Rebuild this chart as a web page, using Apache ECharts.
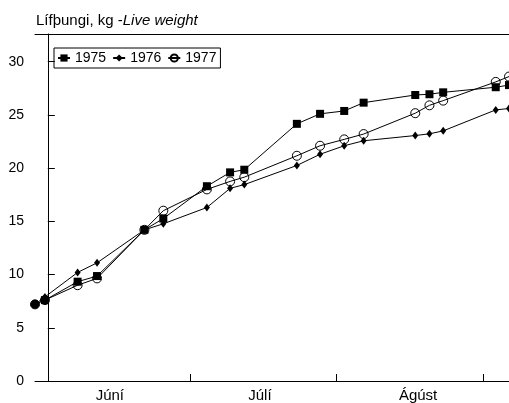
<!DOCTYPE html>
<html>
<head>
<meta charset="utf-8">
<script src="https://cdn.jsdelivr.net/npm/echarts@6/dist/echarts.min.js"></script>
<style>
html,body{margin:0;padding:0;background:#fff;}
#chart{width:509px;height:403px;}
</style>
</head>
<body>
<div id="chart"></div>
<script>
// Days counted from 1 June
const days = [-2.7, -0.6, 6.3, 10.4, 20.4, 24.4, 33.6, 38.5, 41.5, 52.6, 57.5, 62.6, 66.7, 77.6, 80.6, 83.5, 94.6, 97.4];
const w1975 = [null, 7.6, 9.33, 9.86, 14.2, 15.26, 18.3, 19.6, 19.85, 24.16, 25.1, 25.37, 26.15, 26.87, 26.94, 27.12, 27.6, 27.8];
const w1976 = [7.2, 7.9, 10.2, 11.1, 14.2, 14.77, 16.3, 18.1, 18.45, 20.25, 21.3, 22.1, 22.57, 23.06, 23.22, 23.5, 25.47, 25.6];
const w1977 = [7.2, 7.6, 9.0, 9.64, 14.2, 16.0, 18.0, 18.75, 19.15, 21.16, 22.1, 22.7, 23.2, 25.16, 25.9, 26.34, 28.1, 28.6];
const seriesNames = ['1975', '1976', '1977'];
const monthStarts = [0, 30, 61, 92];
const monthLabelPos = [13.1, 44.8, 78.2];
const monthLabels = ['Júní', 'Júlí', 'Ágúst'];
const yTicks = [0, 5, 10, 15, 20, 25, 30];

const FONT = '"Liberation Sans", Arial, sans-serif';

function pairs(vals) {
  const out = [];
  vals.forEach((v, i) => { if (v !== null) out.push([days[i], v]); });
  return out;
}

const chart = echarts.init(document.getElementById('chart'), null, {renderer: 'canvas'});
const d1977 = pairs(w1977);
d1977[0] = {value: d1977[0], itemStyle: {color: '#000'}};

chart.setOption({
  animation: false,
  backgroundColor: '#fff',
  title: {
    text: '{a|Lífþungi, kg -}{b|Live weight}',
    left: 36, top: 13, padding: 0,
    textStyle: {
      fontWeight: 'normal',
      rich: {
        a: {fontFamily: FONT, fontSize: 15, color: '#000', fontWeight: 'normal'},
        b: {fontFamily: FONT, fontSize: 15, color: '#000', fontStyle: 'italic', fontWeight: 'normal'}
      }
    }
  },
  legend: {
    left: 54, top: 48,
    padding: [3, 4, 3, 3],
    borderColor: '#000', borderWidth: 1, borderRadius: 0,
    itemWidth: 12, itemHeight: 9, itemGap: 6,
    textStyle: {fontFamily: FONT, fontSize: 14, color: '#000'},
    data: seriesNames
  },
  grid: {left: 35, right: 0, top: 34, bottom: 21, containLabel: false},
  xAxis: [{
    type: 'value', min: -2.7, max: 97.4,
    axisLine: {show: true, lineStyle: {color: '#000', width: 1}},
    axisTick: {show: true, inside: true, length: 7, lineStyle: {color: '#000'}, customValues: monthStarts},
    axisLabel: {
      show: true, customValues: monthLabelPos, margin: 7,
      fontFamily: FONT, fontSize: 15, color: '#000',
      formatter: function (v) {
        const i = monthLabelPos.indexOf(v);
        return i >= 0 ? monthLabels[i] : '';
      }
    },
    splitLine: {show: false}
  }, {
    type: 'value', position: 'top', min: -2.7, max: 97.4,
    axisLine: {show: true, lineStyle: {color: '#000', width: 1}},
    axisTick: {show: false}, axisLabel: {show: false}, splitLine: {show: false}
  }],
  yAxis: {
    type: 'value', min: 0, max: 32.6,
    axisLine: {show: true, lineStyle: {color: '#000', width: 1}},
    axisTick: {show: true, inside: true, length: 7, lineStyle: {color: '#000'}, customValues: yTicks},
    axisLabel: {customValues: yTicks, margin: 11, fontFamily: FONT, fontSize: 14, color: '#000'},
    splitLine: {show: false}
  },
  series: [{
    name: seriesNames[0], type: 'line', data: pairs(w1975),
    symbol: 'rect', symbolSize: 8,
    lineStyle: {color: '#000', width: 1},
    itemStyle: {color: '#000'}
  }, {
    name: seriesNames[1], type: 'line', data: pairs(w1976),
    symbol: 'diamond', symbolSize: [6, 8],
    lineStyle: {color: '#000', width: 1},
    itemStyle: {color: '#000'}
  }, {
    name: seriesNames[2], type: 'line', data: d1977,
    symbol: 'circle', symbolSize: 9,
    lineStyle: {color: '#000', width: 1},
    itemStyle: {color: 'rgba(255,255,255,0)', borderColor: '#000', borderWidth: 1}
  }]
});
</script>
</body>
</html>
